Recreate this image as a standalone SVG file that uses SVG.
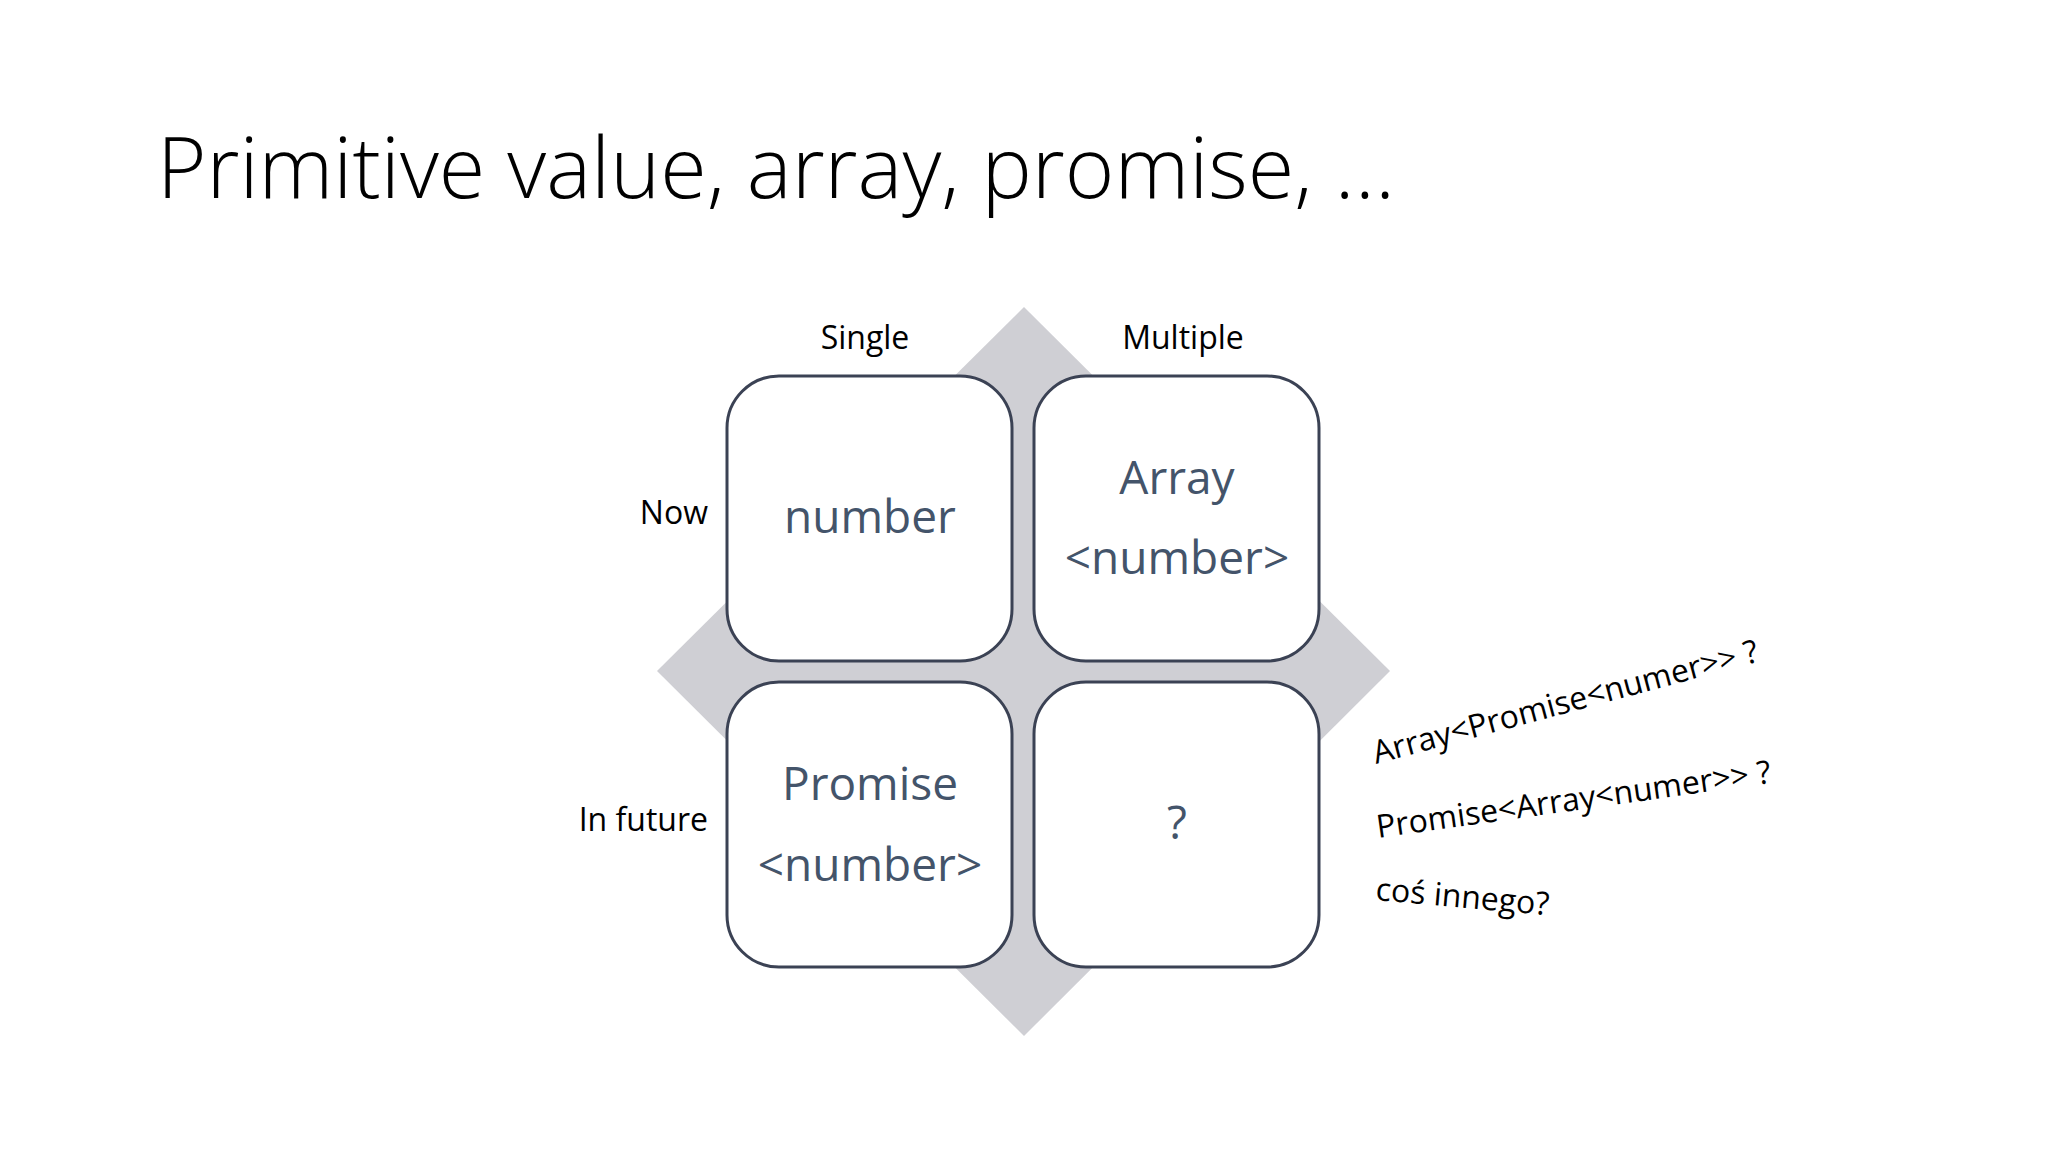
<svg xmlns="http://www.w3.org/2000/svg" width="2048" height="1152" viewBox="0 0 2048 1152">
<style>
.box{fill:#fff;stroke:#3b4254;stroke-width:3}
.bt{font-family:"Open Sans","Liberation Sans",sans-serif;font-size:46px;fill:#44546a;text-anchor:middle}
.lb{font-family:"Open Sans","Liberation Sans",sans-serif;font-size:32px;fill:#000}
</style>
<rect width="2048" height="1152" fill="#fff"/>
<text x="157" y="198" font-family="Open Sans, Liberation Sans, sans-serif" font-weight="300" font-size="84" fill="#000" textLength="1238" lengthAdjust="spacingAndGlyphs">Primitive value, array, promise, …</text>
<polygon id="diamond" points="1024,307 1390,671 1024,1036 657,671" fill="#cfcfd4"/>
<g id="n1"><rect class="box" x="727" y="376" width="285" height="285" rx="52"/><text class="bt" x="870" y="533">number</text></g>
<g id="n2"><rect class="box" x="1034" y="376" width="285" height="285" rx="52"/><text class="bt" x="1177" y="494">Array</text><text class="bt" x="1177" y="574">&lt;number&gt;</text></g>
<g id="n3"><rect class="box" x="727" y="682" width="285" height="285" rx="52"/><text class="bt" x="870" y="800">Promise</text><text class="bt" x="870" y="881">&lt;number&gt;</text></g>
<g id="n4"><rect class="box" x="1034" y="682" width="285" height="285" rx="52"/><text class="bt" x="1177" y="839">?</text></g>
<g id="labels">
<text class="lb" x="865" y="349" text-anchor="middle">Single</text>
<text class="lb" x="1183" y="349" text-anchor="middle">Multiple</text>
<text class="lb" x="708" y="524" text-anchor="end">Now</text>
<text class="lb" x="708" y="831" text-anchor="end">In future</text>
<text class="lb" x="1376" y="764" transform="rotate(-15 1376 764)">Array&lt;Promise&lt;numer&gt;&gt; ?</text>
<text class="lb" x="1378" y="838" transform="rotate(-8 1378 838)">Promise&lt;Array&lt;numer&gt;&gt; ?</text>
<text class="lb" x="1375" y="900" transform="rotate(5 1375 900)">coś innego?</text>
</g>
<g id="connectors"/>
</svg>
